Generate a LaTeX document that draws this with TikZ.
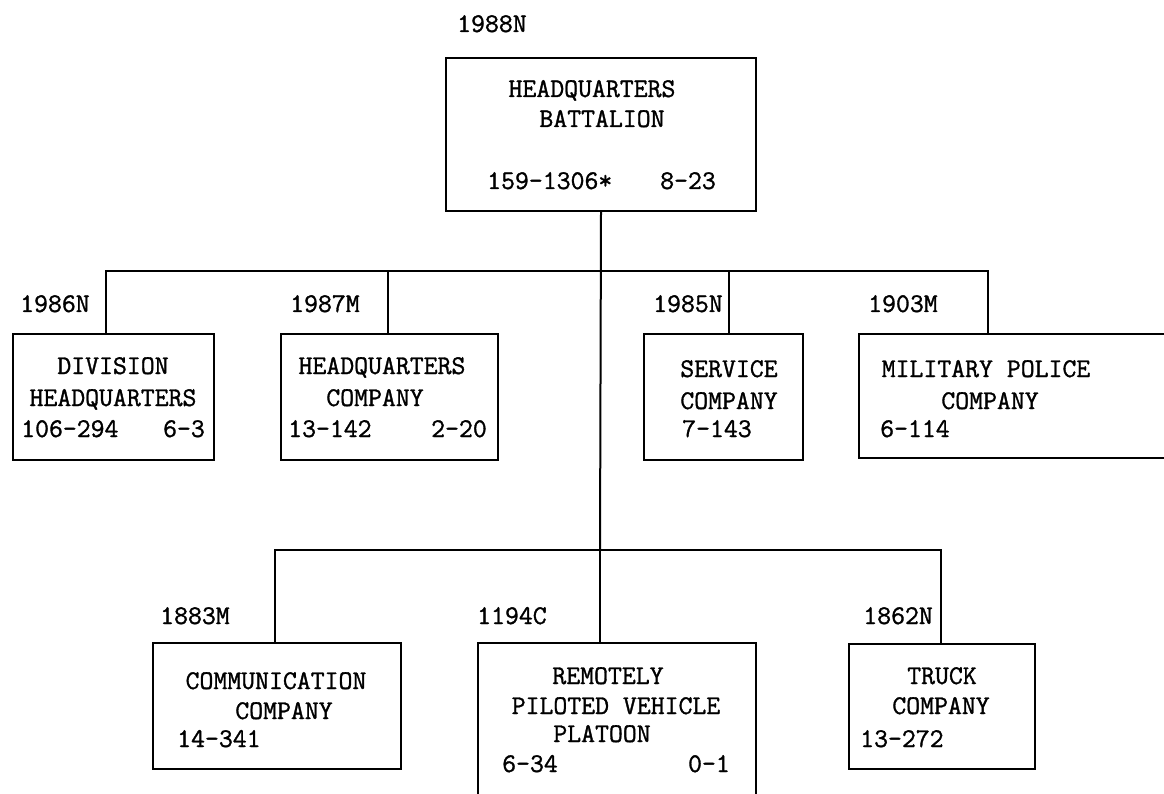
\documentclass[tikz,border=0pt]{standalone}
\usepackage{fontspec}
\newfontfamily\tw{Latin Modern Mono}[FakeBold=1.2]
\begin{document}
\begin{tikzpicture}[x=1pt,y=-1pt,
  ln/.style={line width=2pt, line cap=rect},
  box/.style={draw, line width=2pt, inner sep=0pt, anchor=north west},
  txt/.style={inner sep=0pt, font=\tw\fontsize{27}{32}\selectfont},
  tc/.style={txt, anchor=base},
  tl/.style={txt, anchor=base west},
  tr/.style={txt, anchor=base east}]
\clip (0,0) rectangle (1164,794);
\fill[white] (0,0) rectangle (1164,794);

% boxes
\node[box, minimum width=310, minimum height=153] (hq) at (445,57) {};
\node[box, minimum width=201, minimum height=126] (div) at (12,333) {};
\node[box, minimum width=217, minimum height=126] (hqc) at (280,333) {};
\node[box, minimum width=159, minimum height=126] (svc) at (643,333) {};
\node[box, minimum width=340, minimum height=124] (mp) at (858,333) {};
\node[box, minimum width=248, minimum height=126] (com) at (152,642) {};
\node[box, minimum width=278, minimum height=200] (rpv) at (477,642) {};
\node[box, minimum width=186, minimum height=125] (trk) at (848,643) {};

% bus coordinates
\coordinate (b1) at (600,271);
\coordinate (b2) at (600,550);
\coordinate (d1) at (106,271);
\coordinate (d2) at (388,271);
\coordinate (d3) at (729,271);
\coordinate (d4) at (988,271);
\coordinate (e1) at (275,550);
\coordinate (e3) at (941,550);

% connectors
\draw[ln] (hq.south) -- (b2);
\draw[ln] (d1) -- (d4);
\draw[ln] (d1) -- (d1 |- div.north);
\draw[ln] (d2) -- (d2 |- hqc.north);
\draw[ln] (d3) -- (d3 |- svc.north);
\draw[ln] (d4) -- (d4 |- mp.north);
\draw[ln] (e1) -- (e3);
\draw[ln] (e1) -- (e1 |- com.north);
\draw[ln] (b2) -- (b2 |- rpv.north);
\draw[ln] (e3) -- (e3 |- trk.north);

% labels
\node[tl] (l0) at (457,32) {1988N};
\node[tl] (l1) at (20,312) {1986N};
\node[tl] (l2) at (290,312) {1987M};
\node[tl] (l3) at (653,312) {1985N};
\node[tl] (l4) at (868,312) {1903M};
\node[tl] (l5) at (160,624) {1883M};
\node[tl] (l6) at (477,624) {1194C};
\node[tr] (l7) at (933,624) {1862N};

% top box text
\node[tc] at (592,97) {HEADQUARTERS};
\node[tc] at (602,127) {BATTALION};
\node[tl] at (487,189) {159-1306*};
\node[tr] at (716,189) {8-23};

% division HQ
\node[tc] at (113,374) {DIVISION};
\node[tc] at (113,406) {HEADQUARTERS};
\node[tl] at (21,437) {106-294};
\node[tr] at (205,437) {6-3};

% HQ company
\node[tc] at (382,374) {HEADQUARTERS};
\node[tc] at (375,406) {COMPANY};
\node[tl] at (288,437) {13-142};
\node[tr] at (487,437) {2-20};

% service
\node[tc] at (729,377) {SERVICE};
\node[tc] at (729,409) {COMPANY};
\node[tl] at (682,437) {7-143};

% MP
\node[tc] at (986,377) {MILITARY POLICE};
\node[tc] at (990,409) {COMPANY};
\node[tl] at (880,437) {6-114};

% communication
\node[tc] at (276,689) {COMMUNICATION};
\node[tc] at (284,719) {COMPANY};
\node[tl] at (177,747) {14-341};

% RPV
\node[tc] at (608,684) {REMOTELY};
\node[tc] at (616,714) {PILOTED VEHICLE};
\node[tc] at (602,742) {PLATOON};
\node[tl] at (502,772) {6-34};
\node[tr] at (730,772) {0-1};

% truck
\node[tc] at (942,684) {TRUCK};
\node[tc] at (941,714) {COMPANY};
\node[tl] at (860,747) {13-272};
\end{tikzpicture}
\end{document}
